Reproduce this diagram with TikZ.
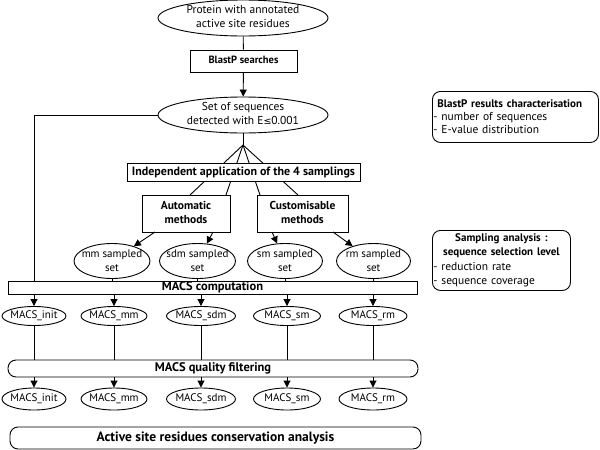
\documentclass[tikz,border=0pt]{standalone}
\usepackage{fontspec}
\setmainfont{PT Sans}
\newfontfamily\symf{DejaVu Sans}
\usetikzlibrary{shapes.geometric,arrows.meta}
\newcommand{\ctext}[1]{\smash{\makebox[0pt]{\raisebox{-0.27em}{\begin{tabular}{@{}c@{}}#1\end{tabular}}}}}
\tikzset{
  ell/.style={ellipse, draw, line width=0.9pt, inner sep=0pt, fill=white},
  sqbox/.style={draw, rectangle, line width=0.9pt, inner sep=0pt, fill=white, font=\fontsize{11.5}{13.5}\selectfont\bfseries},
  rbox/.style={sqbox, rounded corners=8pt},
  infobox/.style={draw, rectangle, rounded corners=8pt, line width=0.9pt, inner xsep=1pt, inner ysep=1pt, anchor=north west, align=left},
  ln/.style={line width=0.9pt},
  arr/.style={line width=0.9pt, -{Triangle[length=7pt,width=7pt]}},
}
\begin{document}
\begin{tikzpicture}[x=1pt, y=-1pt, font=\fontsize{11.5}{14}\selectfont]
\useasboundingbox[fill=white] (0,0) rectangle (600,450);

% fan lines (drawn first, boxes cover them)
\coordinate (j) at (243,145);
\coordinate (a1) at (190,195);
\coordinate (a2) at (226,195);
\coordinate (c1) at (260,195);
\coordinate (c2) at (298,195);
\draw[ln] (j) -- (a1);
\draw[ln] (j) -- (a2);
\draw[ln] (j) -- (c1);
\draw[ln] (j) -- (c2);

% main flow
\node[ell, minimum width=170, minimum height=36] (prot) at (243,18) {\ctext{Protein with annotated\\active site residues}};
\node[sqbox, minimum width=107, minimum height=22, font=\fontsize{10.5}{13}\selectfont\bfseries] (blast) at (243.5,61) {\ctext{BlastP searches}};
\node[ell, minimum width=170, minimum height=36] (set) at (243,115) {\ctext{Set of sequences\\detected with E{\symf\fontsize{9.5}{9}\selectfont ≤}0.001}};

\node[sqbox, minimum width=233, minimum height=18, font=\fontsize{12}{14}\selectfont\bfseries] (indep) at (243.5,172.5) {\ctext{Independent application of the 4 samplings}};
\node[sqbox, minimum width=88, minimum height=37] (auto) at (186,213.5) {\ctext{Automatic\\methods}};
\node[sqbox, minimum width=91, minimum height=37] (cust) at (302.5,213.5) {\ctext{Customisable\\methods}};

\begin{scope}[font=\fontsize{11}{14}\selectfont]
\node[ell, minimum width=76, minimum height=35] (mm) at (112,261) {\ctext{mm sampled\\set}};
\node[ell, minimum width=76, minimum height=35] (sdm) at (197.5,261) {\ctext{sdm sampled\\set}};
\node[ell, minimum width=75, minimum height=35] (sm) at (285,261) {\ctext{sm sampled\\set}};
\node[ell, minimum width=74, minimum height=35] (rm) at (373.5,261) {\ctext{rm sampled\\set}};
\end{scope}

\node[sqbox, minimum width=409, minimum height=13, font=\fontsize{12.5}{14}\selectfont\bfseries] (comp) at (212.5,287.5) {\ctext{MACS computation}};

\begin{scope}[font=\fontsize{11}{13}\selectfont]
\node[ell, minimum width=64, minimum height=19] (i1) at (34,316) {\ctext{MACS\_init}};
\node[ell, minimum width=66, minimum height=19] (m1) at (114,316) {\ctext{MACS\_mm}};
\node[ell, minimum width=69, minimum height=19] (d1) at (201,316) {\ctext{MACS\_sdm}};
\node[ell, minimum width=67, minimum height=19] (s1) at (287,316) {\ctext{MACS\_sm}};
\node[ell, minimum width=68, minimum height=19] (r1) at (373,316) {\ctext{MACS\_rm}};

\node[ell, minimum width=64, minimum height=22] (i2) at (34,399) {\ctext{MACS\_init}};
\node[ell, minimum width=66, minimum height=22] (m2) at (114,399) {\ctext{MACS\_mm}};
\node[ell, minimum width=69, minimum height=22] (d2) at (201,399) {\ctext{MACS\_sdm}};
\node[ell, minimum width=67, minimum height=22] (s2) at (287,399) {\ctext{MACS\_sm}};
\node[ell, minimum width=68, minimum height=22] (r2) at (373,399) {\ctext{MACS\_rm}};
\end{scope}

\node[rbox, minimum width=410, minimum height=17, font=\fontsize{12.5}{14}\selectfont\bfseries] (filt) at (213,368.5) {\ctext{MACS quality filtering}};

\node[rbox, minimum width=411, minimum height=22, font=\fontsize{13.5}{15}\selectfont\bfseries] (act) at (215.5,438) {\ctext{Active site residues conservation analysis}};

% side boxes
\node[infobox, text width=164, minimum height=51, font=\fontsize{11.5}{13}\selectfont] (bres) at (432,91)
  {\hspace*{4pt}{\fontsize{11}{13}\selectfont\bfseries BlastP results characterisation}\\- number of sequences\\- E-value distribution};
\node[infobox, text width=136, minimum height=60, font=\fontsize{11.5}{14.5}\selectfont] (samp) at (432,230)
  {{\centering\fontsize{11}{14.5}\selectfont\bfseries Sampling analysis :\\ sequence selection level\par}- reduction rate\\- sequence coverage};

% connectors
\coordinate (ab1) at (155,232);
\coordinate (ab2) at (213,232);
\coordinate (cb1) at (272,232);
\coordinate (cb2) at (333,232);

\draw[ln] (prot) -- (blast);
\draw[arr] (blast) -- (set);
\draw[ln] (set) -- (j);
\draw[ln] (set.west) -| (i1 |- comp.north);

\draw[arr] (ab1) -- (mm);
\draw[arr] (ab2) -- (sdm);
\draw[arr] (cb1) -- (sm);
\draw[arr] (cb2) -- (rm);

\foreach \n in {mm,sdm,sm,rm}{
  \draw[ln] (\n.south) -- (\n.south |- comp.north);
}
\foreach \n/\m in {i1/i2,m1/m2,d1/d2,s1/s2,r1/r2}{
  \draw[arr] (comp.south -| \n) -- (\n.north);
  \draw[ln] (\n.south) -- (\n.south |- filt.north);
  \draw[arr] (filt.south -| \m) -- (\m.north);
}
\end{tikzpicture}
\end{document}
